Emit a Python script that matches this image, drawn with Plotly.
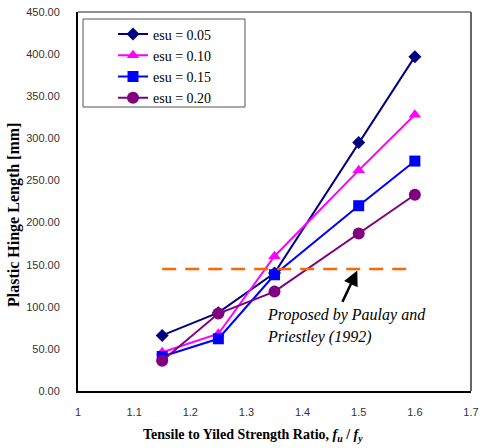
import plotly.graph_objects as go

x_vals = [1.15, 1.25, 1.35, 1.5, 1.6]
esu_005 = [66, 93, 140, 295, 397]
esu_010 = [46, 68, 160, 262, 328]
esu_015 = [41, 62, 138, 220, 273]
esu_020 = [36, 92, 118, 187, 233]
series_names = ["esu = 0.05", "esu = 0.10", "esu = 0.15", "esu = 0.20"]
colors = ["#000080", "#FF00FF", "#0000FF", "#800080"]
symbols = ["diamond", "triangle-up", "square", "circle"]
sizes = [10, 11, 11, 12]

proposed_x = [1.15, 1.6]
proposed_y = [145, 145]

x_ticks = [1, 1.1, 1.2, 1.3, 1.4, 1.5, 1.6, 1.7]
y_ticks = [0, 50, 100, 150, 200, 250, 300, 350, 400, 450]

L, R, T, B = 78, 9, 12, 57
pw, ph = 480 - L - R, 448 - T - B


def px(xp):
    return (xp - L) / pw


def py(yp):
    return (448 - B - yp) / ph


fig = go.Figure()
for name, ys, c, s, sz in zip(series_names, [esu_005, esu_010, esu_015, esu_020], colors, symbols, sizes):
    fig.add_trace(go.Scatter(x=x_vals, y=ys, name=name, mode="lines+markers",
                             line=dict(color=c, width=2),
                             marker=dict(symbol=s, size=sz, color=c)))

fig.add_trace(go.Scatter(x=proposed_x, y=proposed_y, mode="lines", showlegend=False,
                         line=dict(color="#FF6600", width=2.5, dash="14px,9px")))

fig.add_annotation(x=1.4975, y=143, ax=1.4697, ay=104, xref="x", yref="y", axref="x", ayref="y",
                   showarrow=True, arrowhead=2, arrowsize=1.2, arrowwidth=2.5, arrowcolor="black", text="")
fig.add_annotation(x=1.333, y=90, xref="x", yref="y", xanchor="left", yanchor="middle",
                   text="<i>Proposed by Paulay and</i>", showarrow=False,
                   font=dict(family="Liberation Serif", size=16, color="black"))
fig.add_annotation(x=1.333, y=64, xref="x", yref="y", xanchor="left", yanchor="middle",
                   text="<i>Priestley (1992)</i>", showarrow=False,
                   font=dict(family="Liberation Serif", size=16, color="black"))

# axis titles
fig.add_annotation(x=px(14), y=py(215), xref="paper", yref="paper", xanchor="center", yanchor="middle",
                   text="<b>Plastic Hinge Length [mm]</b>",
                   showarrow=False, textangle=-90,
                   font=dict(family="Liberation Serif", size=16, color="black"))
fig.add_annotation(x=px(253), y=py(435), xref="paper", yref="paper", xanchor="center", yanchor="middle",
                   text="<b>Tensile to Yiled Strength Ratio, <i>f<sub>u</sub></i> / <i>f<sub>y</sub></i></b>",
                   showarrow=False, font=dict(family="Liberation Serif", size=14, color="black"))

fig.update_layout(
    width=480, height=448,
    margin=dict(l=L, r=R, t=T, b=B, autoexpand=False),
    paper_bgcolor="white", plot_bgcolor="white",
    legend=dict(x=px(113), y=py(18.5), xanchor="left", yanchor="top",
                borderwidth=0, bgcolor="rgba(0,0,0,0)",
                font=dict(family="Liberation Serif", size=14, color="black"),
                tracegroupgap=0, itemwidth=30),
    xaxis=dict(range=[1, 1.7], tickvals=x_ticks, ticktext=[f"{v:g}" for v in x_ticks],
               showgrid=False, zeroline=False, showline=True, linecolor="black", linewidth=2,
               mirror=False, ticks="", ticklabelstandoff=10,
               tickfont=dict(family="Liberation Sans", size=11, color="#333")),
    yaxis=dict(range=[0, 450], tickvals=y_ticks, ticktext=[f"{v:.2f}" for v in y_ticks],
               showgrid=False, zeroline=False, showline=True, linecolor="black", linewidth=2,
               ticks="", ticklabelstandoff=14,
               tickfont=dict(family="Liberation Sans", size=11, color="#333")),
    shapes=[
        dict(type="line", xref="paper", yref="paper", x0=0, x1=1, y0=1, y1=1, line=dict(color="#222", width=1)),
        dict(type="line", xref="paper", yref="paper", x0=1, x1=1, y0=0, y1=1, line=dict(color="#666", width=2)),
        dict(type="rect", xref="paper", yref="paper", x0=px(83), x1=px(245), y0=py(107), y1=py(19),
             line=dict(color="#555", width=1), fillcolor="rgba(0,0,0,0)", layer="above"),
    ],
)

fig.write_html("out.html", config={"displayModeBar": False},
               post_script="document.body.style.margin='0';document.body.style.overflow='hidden';")
